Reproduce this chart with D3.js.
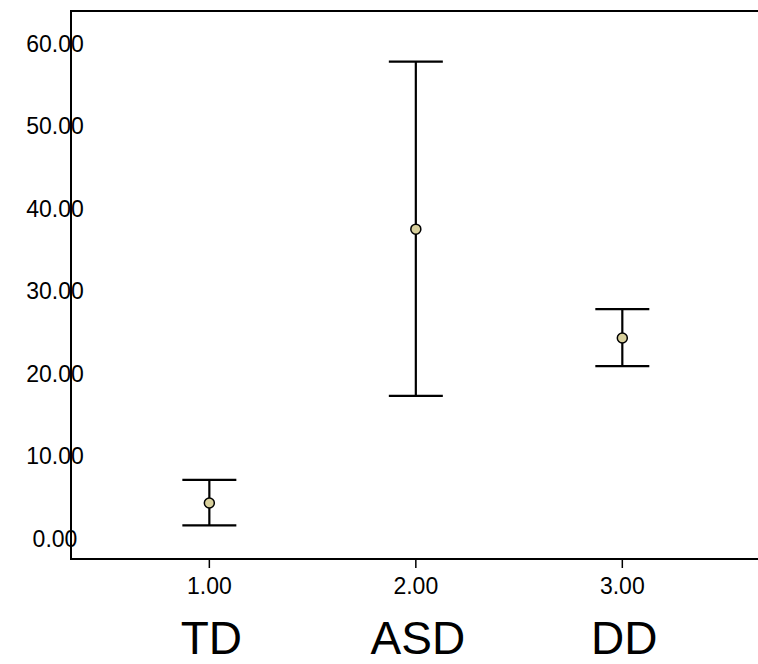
<!DOCTYPE html>
<html>
<head>
<meta charset="utf-8">
<script src="https://cdn.jsdelivr.net/npm/d3@7"></script>
<style>
  html, body { margin: 0; padding: 0; background: #fff; }
  svg { display: block; }
  text { font-family: "Liberation Sans", Arial, sans-serif; fill: #000; }
</style>
</head>
<body>
<svg id="chart" width="758" height="664"></svg>
<script>
// Group codes and their names
const groupCodes = [1, 2, 3];
const groupNames = ["TD", "ASD", "DD"];
// Mean and error-bar limits per group
const means = [4.3, 37.5, 24.3];
const lowerLimits = [1.6, 17.3, 20.9];
const upperLimits = [7.1, 57.8, 27.8];
// Axis ticks
const yTicks = [0, 10, 20, 30, 40, 50, 60];
const xTicks = [1, 2, 3];

const svg = d3.select("#chart");

const x = d3.scaleLinear().domain([0.33, 3.66]).range([71, 758.6]);
const y = d3.scaleLinear().domain([0, 60]).range([538.5, 43.5]);

const yTop = 11, yBottom = 559;

// Frame: left axis, top rule, bottom axis
svg.append("line").attr("x1", 71).attr("x2", 71).attr("y1", yTop - 1).attr("y2", yBottom + 1)
  .attr("stroke", "#000").attr("stroke-width", 2);
svg.append("line").attr("x1", 70).attr("x2", 758).attr("y1", yTop).attr("y2", yTop)
  .attr("stroke", "#000").attr("stroke-width", 2);
svg.append("line").attr("x1", 70).attr("x2", 758).attr("y1", yBottom).attr("y2", yBottom)
  .attr("stroke", "#000").attr("stroke-width", 2);

// Y tick labels sit over the axis line
svg.append("g").selectAll("text").data(yTicks).join("text")
  .attr("x", 55).attr("y", d => y(d))
  .attr("dy", "0.35em")
  .attr("text-anchor", "middle")
  .attr("font-size", 23)
  .text(d => d3.format(".2f")(d));

// X axis ticks and labels
const xAxis = svg.append("g");
xAxis.selectAll("line").data(xTicks).join("line")
  .attr("x1", d => x(d)).attr("x2", d => x(d))
  .attr("y1", yBottom).attr("y2", yBottom + 9)
  .attr("stroke", "#000").attr("stroke-width", 1.5);
xAxis.selectAll("text.tick").data(xTicks).join("text")
  .attr("class", "tick")
  .attr("x", d => x(d)).attr("y", 586)
  .attr("dy", "0.35em")
  .attr("text-anchor", "middle")
  .attr("font-size", 23)
  .text(d => d3.format(".2f")(d));

// Group names under the axis
svg.append("g").selectAll("text").data(groupCodes).join("text")
  .attr("x", d => x(d) + 2).attr("y", 654)
  .attr("text-anchor", "middle")
  .attr("font-size", 46)
  .text((d, i) => groupNames[i]);

// Error bars
const capHalf = 27;
const bars = svg.append("g").selectAll("g").data(groupCodes).join("g");
bars.append("line")
  .attr("x1", d => x(d)).attr("x2", d => x(d))
  .attr("y1", (d, i) => y(upperLimits[i])).attr("y2", (d, i) => y(lowerLimits[i]))
  .attr("stroke", "#000").attr("stroke-width", 2.2);
bars.append("line")
  .attr("x1", d => x(d) - capHalf).attr("x2", d => x(d) + capHalf)
  .attr("y1", (d, i) => y(upperLimits[i])).attr("y2", (d, i) => y(upperLimits[i]))
  .attr("stroke", "#000").attr("stroke-width", 2.2);
bars.append("line")
  .attr("x1", d => x(d) - capHalf).attr("x2", d => x(d) + capHalf)
  .attr("y1", (d, i) => y(lowerLimits[i])).attr("y2", (d, i) => y(lowerLimits[i]))
  .attr("stroke", "#000").attr("stroke-width", 2.2);
bars.append("circle")
  .attr("cx", d => x(d)).attr("cy", (d, i) => y(means[i]))
  .attr("r", 5)
  .attr("fill", "#d8d09c")
  .attr("stroke", "#000").attr("stroke-width", 1.5);
</script>
</body>
</html>
